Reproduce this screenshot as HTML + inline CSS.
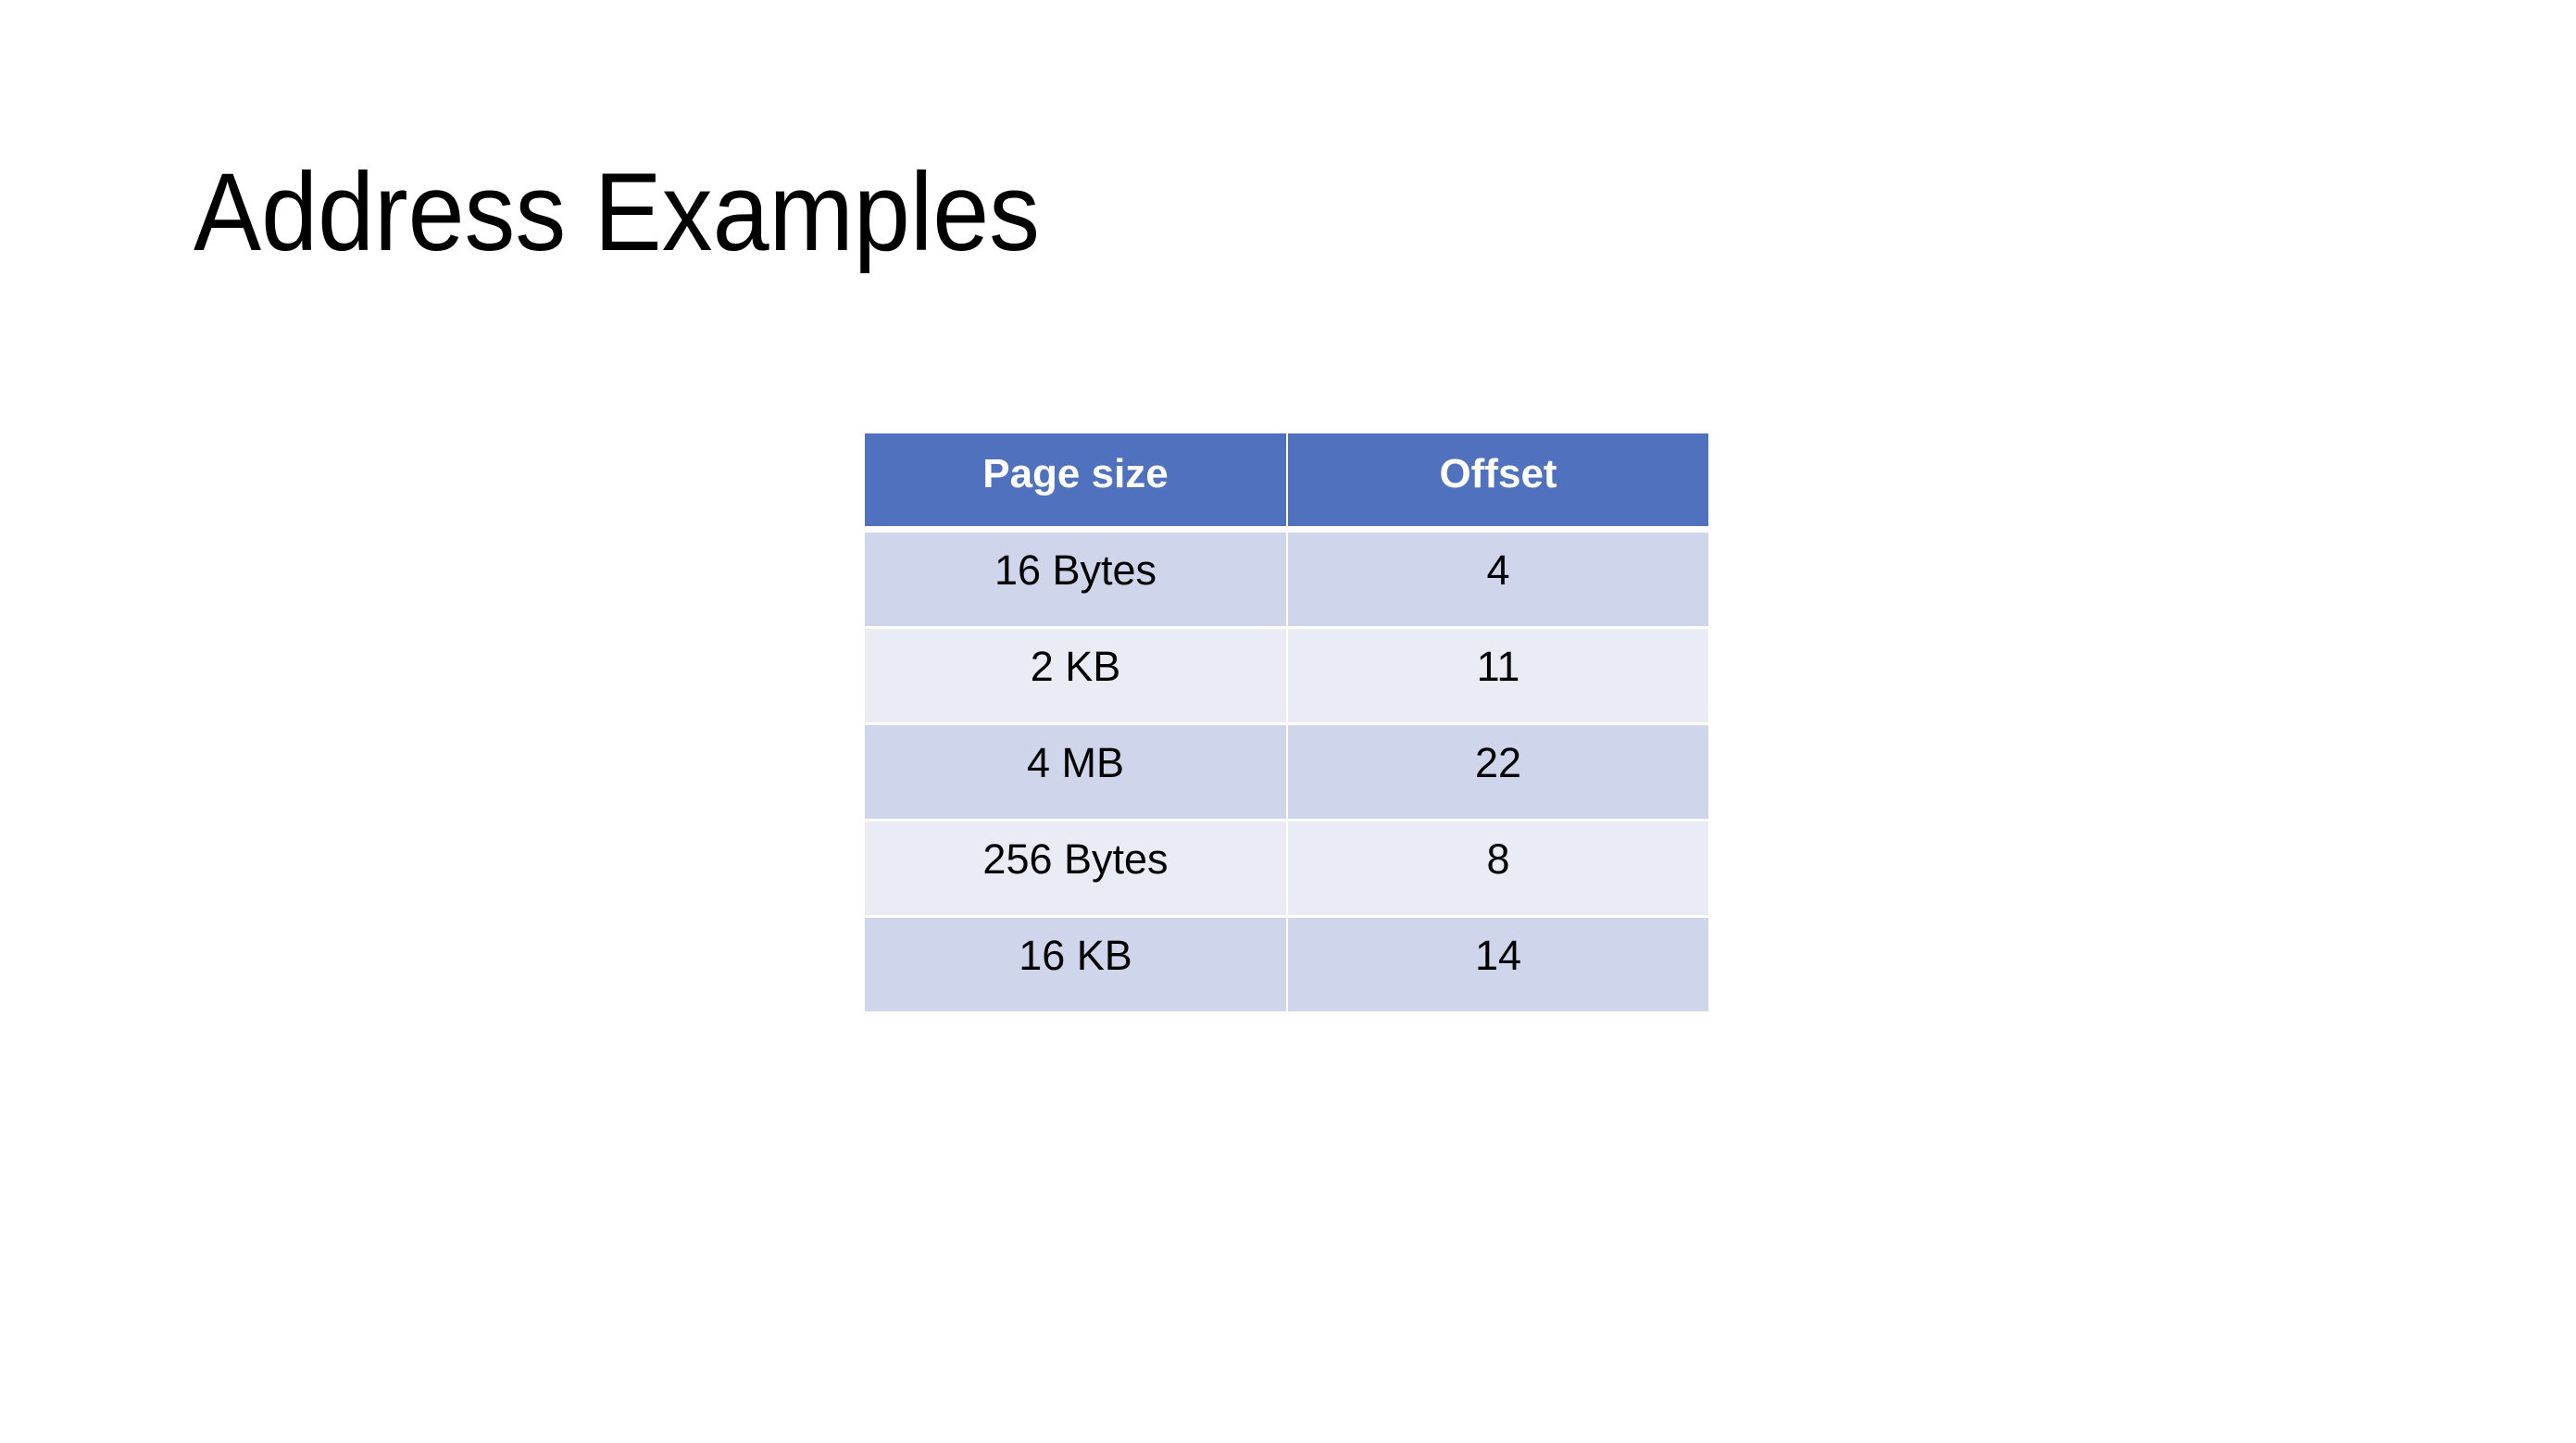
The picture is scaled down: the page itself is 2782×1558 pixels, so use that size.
<!DOCTYPE html>
<html><head><meta charset="utf-8"><style>
html,body{margin:0;padding:0;background:#fff;}
body{width:2782px;height:1558px;position:relative;overflow:hidden;font-family:"Liberation Sans",sans-serif;}
.cell{position:absolute;display:flex;align-items:center;justify-content:center;color:#000;font-size:45px;box-sizing:border-box;padding-bottom:20px;}
.hdr{background:#5072BE;color:#fff;font-weight:bold;font-size:44px;padding-bottom:12px;}
</style></head><body>
<svg style="position:absolute;left:0;top:0" width="1300" height="320">
<text x="209" y="270" font-family="Liberation Sans, sans-serif" font-size="120" textLength="914" lengthAdjust="spacingAndGlyphs" fill="#000">Address Examples</text>
</svg>
<div id="tbl"></div>
<script>
const headers = ["Page size", "Offset"];
const pageSizes = ["16 Bytes", "2 KB", "4 MB", "256 Bytes", "16 KB"];
const offsets = ["4", "11", "22", "8", "14"];

const tbl = document.getElementById('tbl');
const colX = [934, 1391];
const colW = [455, 454];
function mk(text, x, y, w, h, bg, cls, name) {
  const d = document.createElement('div');
  d.className = 'cell ' + cls;
  d.style.left = x + 'px'; d.style.top = y + 'px';
  d.style.width = w + 'px'; d.style.height = h + 'px';
  if (bg) d.style.background = bg;
  d.textContent = text;
  
  
  tbl.appendChild(d);
}
headers.forEach((h, i) => {
  mk(h, colX[i], 468, colW[i], 100, null, 'hdr', i === 0 ? 'header-page-size' : 'header-offset');
});
const rowTop = 575, pitch = 104, rowH = 101;
pageSizes.forEach((p, r) => {
  const bg = r % 2 === 0 ? '#CFD5EA' : '#E9EBF5';
  const y = rowTop + r * pitch;
  mk(p, colX[0], y, colW[0], rowH, bg, '', 'page-size-cell');
  mk(offsets[r], colX[1], y, colW[1], rowH, bg, '', 'offset-cell');
});
</script>
</body></html>
